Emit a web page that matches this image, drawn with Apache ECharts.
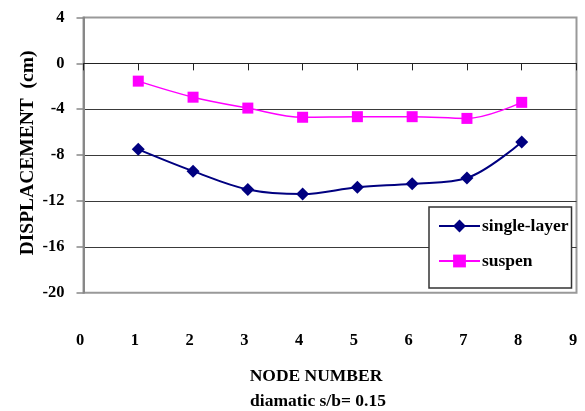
<!DOCTYPE html>
<html>
<head>
<meta charset="utf-8">
<script src="https://cdn.jsdelivr.net/npm/echarts@6/dist/echarts.min.js"></script>
<style>
html,body{margin:0;padding:0;background:#fff;}
#chart{width:585px;height:411px;}
</style>
</head>
<body>
<div id="chart"></div>
<script>
var nodes = [1, 2, 3, 4, 5, 6, 7, 8];
var singleLayer = [-7.5, -9.4, -11.0, -11.4, -10.8, -10.5, -10.0, -6.85];
var suspen = [-1.55, -2.95, -3.9, -4.7, -4.65, -4.65, -4.8, -3.4];
var seriesNames = ['single-layer', 'suspen'];
var yTicks = [-20, -16, -12, -8, -4, 0, 4];
var xTicks = [0, 1, 2, 3, 4, 5, 6, 7, 8, 9];
var yTitle = 'DISPLACEMENT  (cm)';
var xTitle = 'NODE NUMBER';
var subTitle = 'diamatic s/b= 0.15';

function pairs(xs, ys) { return xs.map(function (x, i) { return [x, ys[i]]; }); }

var FONT = '"Liberation Serif", "Times New Roman", serif';
var chart = echarts.init(document.getElementById('chart'), null, {renderer: 'canvas'});
chart.setOption({
  animation: false,
  backgroundColor: '#fff',
  grid: {left: 83.5, right: 8.5, top: 17.5, bottom: 118.3, show: true,
         borderColor: '#999', borderWidth: 2, backgroundColor: 'transparent'},
  xAxis: [{
    type: 'value', min: xTicks[0], max: xTicks[xTicks.length - 1], interval: 1,
    position: 'bottom',
    axisLine: {show: true, onZero: true, lineStyle: {color: '#222', width: 1}},
    axisTick: {show: true, inside: false, length: 7, lineStyle: {color: '#222', width: 1}},
    axisLabel: {show: false},
    splitLine: {show: false}
  }, {
    type: 'value', min: xTicks[0], max: xTicks[xTicks.length - 1], interval: 1,
    position: 'bottom',
    axisLine: {show: false, onZero: false},
    axisTick: {show: false},
    axisLabel: {show: true, margin: 40, padding: [0, 7, 0, 0],
                fontFamily: FONT, fontWeight: 'bold', fontSize: 16.5, color: '#000'},
    splitLine: {show: false}
  }],
  yAxis: {
    type: 'value', min: yTicks[0], max: yTicks[yTicks.length - 1], interval: 4,
    axisLine: {show: true, lineStyle: {color: '#888', width: 2}},
    axisTick: {show: true, length: 7, lineStyle: {color: '#888', width: 1.5}},
    axisLabel: {margin: 19, fontFamily: FONT, fontWeight: 'bold', fontSize: 16.5, color: '#000'},
    splitLine: {show: true, showMinLine: false, showMaxLine: false,
                lineStyle: {color: '#3a3a3a', width: 1}}
  },
  legend: {
    orient: 'vertical', left: 429, top: 207,
    padding: [10, 3, 18, 9], itemGap: 17,
    itemWidth: 41, itemHeight: 16,
    backgroundColor: '#fff', borderColor: '#333', borderWidth: 1.5,
    textStyle: {fontFamily: FONT, fontWeight: 'bold', fontSize: 17.5, color: '#000', padding: [0, 0, 0, -3]},
    data: seriesNames
  },
  graphic: [
    {type: 'text', rotation: Math.PI / 2, x: 28, y: 153,
     style: {text: yTitle, fontFamily: FONT, fontWeight: 'bold', fontSize: 19.5, fill: '#000',
             align: 'center', verticalAlign: 'middle'}},
    {type: 'text', x: 316, y: 376,
     style: {text: xTitle, fontFamily: FONT, fontWeight: 'bold', fontSize: 17.5, fill: '#000',
             align: 'center', verticalAlign: 'middle'}},
    {type: 'text', x: 318, y: 401,
     style: {text: subTitle, fontFamily: FONT, fontWeight: 'bold', fontSize: 17.5, fill: '#000',
             align: 'center', verticalAlign: 'middle'}}
  ],
  series: [{
    name: seriesNames[0], type: 'line', xAxisIndex: 0, smooth: 0.35,
    data: pairs(nodes, singleLayer),
    symbol: 'diamond', symbolSize: 13,
    lineStyle: {color: '#000080', width: 2},
    itemStyle: {color: '#000080'}
  }, {
    name: seriesNames[1], type: 'line', xAxisIndex: 0, smooth: 0.35,
    data: pairs(nodes, suspen),
    symbol: 'rect', symbolSize: 11,
    lineStyle: {color: '#ff00ff', width: 1.5},
    itemStyle: {color: '#ff00ff'}
  }]
});
</script>
</body>
</html>
